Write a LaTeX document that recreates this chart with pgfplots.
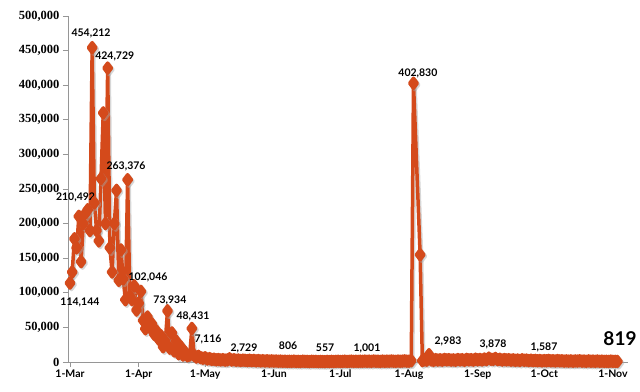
\documentclass[border=0pt]{standalone}
\usepackage{fontspec}
\usepackage{pgfplots}
\usepackage{pgfplotstable}
\pgfplotsset{compat=1.18}
\setmainfont{Lato}
\newfontfamily\serifb{Liberation Serif}[BoldFont={Liberation Serif Bold}]
\newfontfamily\lab{Lato}
\definecolor{lineor}{RGB}{212,74,27}
\definecolor{axgray}{RGB}{150,150,150}

\pgfplotstableread{
x y
0 114144
1 130000
2 178000
3 165000
4 210492
5 145000
6 200000
7 215000
8 220000
9 190000
10 454212
11 230000
12 190000
13 175000
14 265000
15 360000
16 200000
17 424729
18 165000
19 130000
20 200000
21 248000
22 118000
23 162000
24 120000
25 90000
26 263376
27 95000
28 90000
29 110000
30 75000
31 85000
32 102046
33 60000
34 48000
35 65000
36 50000
37 55000
38 40000
39 45000
40 33000
41 38000
42 22000
43 30000
44 73934
45 20000
46 42000
47 16000
48 30000
49 12000
50 22000
51 10000
52 14000
53 9000
54 10000
55 48431
56 9500
57 7116
58 8200
59 6300
60 5400
61 6100
62 4300
63 4900
64 3700
65 4100
66 3200
67 3600
68 2900
69 3400
70 2700
71 3100
72 4600
73 2800
74 3300
75 2500
76 2900
77 2200
78 2729
79 2400
80 2000
81 2600
82 1900
83 2300
84 1700
85 2100
86 1500
87 1900
88 1400
89 1800
90 1300
91 1600
92 1200
93 1500
94 1100
95 1400
96 950
97 1200
98 806
99 1100
100 900
101 1300
102 800
103 1000
104 700
105 1200
106 850
107 950
108 650
109 1100
110 750
111 900
112 600
113 800
114 700
115 557
116 900
117 650
118 1000
119 700
120 850
121 1100
122 750
123 950
124 1200
125 800
126 1000
127 1300
128 900
129 1100
130 850
131 1200
132 950
133 1400
134 1001
135 1300
136 900
137 1500
138 1100
139 1200
140 900
141 1400
142 1000
143 1300
144 1100
145 1500
146 1200
147 1000
148 1400
149 1100
150 1300
151 1600
152 1200
153 1200
154 1800
155 402830
158 155000
159 1900
160 3200
161 2600
162 10500
163 3000
164 2400
165 3500
166 2800
167 3300
168 2600
169 3700
170 2983
171 3400
172 2700
173 3100
174 2500
175 3600
176 2900
177 3300
178 2400
179 3800
180 3000
181 3500
182 2700
183 4100
184 3200
185 3700
186 2900
187 4300
188 3500
189 5600
190 3900
191 3878
192 5200
193 3300
194 4000
195 2800
196 3600
197 3000
198 3400
199 2600
200 3100
201 2400
202 2900
203 2200
204 3300
205 2500
206 2800
207 2100
208 2600
209 1900
210 2400
211 1800
212 2200
213 1587
214 2000
215 1700
216 2300
217 1600
218 1900
219 1400
220 2100
221 1500
222 1800
223 1300
224 1700
225 1200
226 1600
227 1100
228 1500
229 1300
230 1800
231 1200
232 1400
233 1000
234 1600
235 1100
236 1300
237 950
238 1500
239 1000
240 1200
241 900
242 1100
243 850
244 1300
245 900
246 1000
247 819
}\data

\begin{document}
\begin{tikzpicture}
\begin{axis}[
  name=ax,
  scale only axis,
  width=560pt, height=346pt,
  xmin=-0.9, xmax=251.8,
  ymin=0, ymax=500000,
  axis x line*=bottom, axis y line*=left,
  axis line style={axgray, line width=0.8pt},
  tick style={axgray, line width=0.8pt},
  tick align=outside,
  major tick length=5pt,
  xtick={0,31,61,92,122,153,184,214,245},
  xticklabels={1-Mar,1-Apr,1-May,1-Jun,1-Jul,1-Aug,1-Sep,1-Oct,1-Nov},
  xticklabel style={font=\lab\bfseries\fontsize{10.5}{12}\selectfont, yshift=1pt},
  ytick={0,50000,...,500000},
  scaled y ticks=false,
  yticklabel={\serifb\bfseries\fontsize{12.5}{14}\selectfont\pgfmathprintnumber[fixed,precision=0,1000 sep={,},assume math mode=true]{\tick}},
  clip=false,
]
\addplot[black!35, opacity=0.45, line width=3.5pt, line join=round, mark=diamond*, mark size=5pt, mark options={solid}, shift={(1.5pt,-1.5pt)}] table[x=x,y=y] {\data};
\addplot[lineor, line width=3.5pt, line join=round, mark=diamond*, mark size=5pt, mark options={solid, fill=lineor}] table[x=x,y=y] {\data};

\begin{scope}[every node/.style={font=\lab\bfseries\fontsize{10.5}{12}\selectfont, inner sep=0pt}]
\node at (axis cs:9.5,475400) {454,212};
\node at (axis cs:20.2,442200) {424,729};
\node at (axis cs:25.3,283200) {263,376};
\node at (axis cs:2.5,238400) {210,492};
\node at (axis cs:4.5,86700) {114,144};
\node at (axis cs:35.2,122800) {102,046};
\node at (axis cs:45.1,89600) {73,934};
\node at (axis cs:55.5,66500) {48,431};
\node at (axis cs:62.3,33200) {7,116};
\node at (axis cs:78.5,20200) {2,729};
\node at (axis cs:98.4,23100) {806};
\node at (axis cs:115.1,20200) {557};
\node at (axis cs:134,20200) {1,001};
\node at (axis cs:157,417600) {402,830};
\node at (axis cs:170.6,30300) {2,983};
\node at (axis cs:190.9,26000) {3,878};
\node at (axis cs:213.9,21700) {1,587};
\node[font=\lab\bfseries\fontsize{19}{22}\selectfont] at (axis cs:248.2,33200) {819};
\end{scope}
\end{axis}
\pgfresetboundingbox
\path ([shift={(-68pt,-29pt)}]ax.south west) rectangle ++(640pt,391pt);
\end{tikzpicture}
\end{document}
